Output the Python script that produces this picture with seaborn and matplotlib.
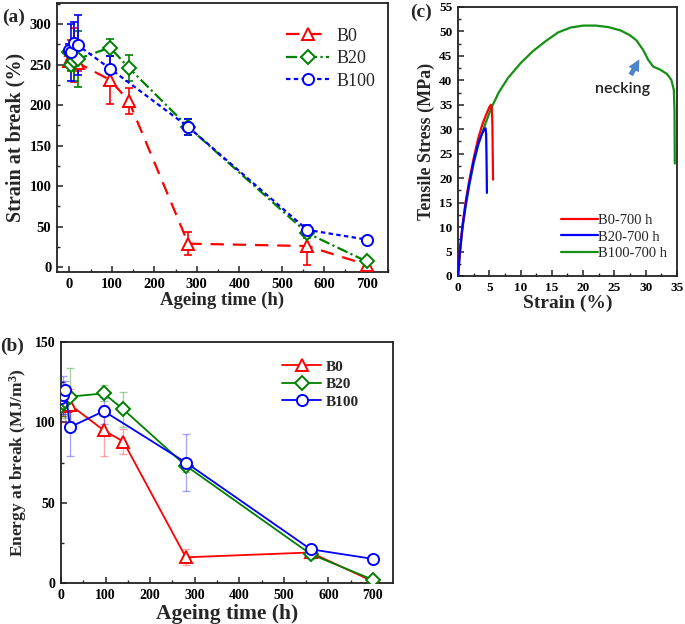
import matplotlib
matplotlib.use("Agg")
import matplotlib.pyplot as plt
import seaborn as sns
import pandas as pd
from matplotlib.ticker import MultipleLocator

# ---------------- data ----------------
series_names = ["B0", "B20", "B100"]
series_colors = {"B0": "#ff0000", "B20": "#008000", "B100": "#0000ff"}
series_markers = {"B0": "^", "B20": "D", "B100": "o"}

time_full = [0, 5, 10, 20, 96, 140, 280, 560, 700]
time_b100 = [0, 5, 10, 20, 96, 280, 560, 700]

# (a) strain at break (%)
strain_b0 = [255, 268, 262, 252, 231, 205, 29, 26, 3]
strain_b0_err = [8, 12, 33, 10, 30, 16, 14, 23, 3]
strain_b20 = [265, 250, 255, 257, 271, 246, 173, 42, 7]
strain_b20_err = [5, 8, 25, 35, 10, 16, 10, 6, 3]
strain_b100 = [268, 265, 277, 274, 245, 173, 46, 34]
strain_b100_err = [8, 35, 25, 37, 15, 10, 6, 3]

# (b) energy at break (MJ/m3)
energy_b0 = [112, 113, 110, 111, 95, 88, 16, 19, 1]
energy_b0_err = [8, 9, 10, 10, 16, 8, 5, 3, 1]
energy_b20 = [110, 112, 113, 116, 118, 108, 73, 18, 2]
energy_b20_err = [6, 8, 10, 18, 5, 11, 4, 3, 1]
energy_b100 = [115, 117, 120, 97, 107, 75, 21, 15]
energy_b100_err = [10, 12, 6, 18, 8, 18, 2, 1]

# (c) tensile curves after 700 h
curve_b0_strain = [0, 0.3, 0.7, 1.2, 1.8, 2.5, 3.2, 3.9, 4.5, 5.0, 5.25, 5.4, 5.5, 5.55, 5.6]
curve_b0_stress = [0, 5, 10, 15, 19.5, 24, 28, 31, 33, 34.5, 35, 34.3, 31, 25, 19.7]
curve_b20_strain = [0, 0.3, 0.7, 1.2, 1.8, 2.5, 3.2, 3.8, 4.2, 4.4, 4.5, 4.55, 4.6, 4.62]
curve_b20_stress = [0, 5, 10, 14.5, 19, 23.5, 27, 29, 30, 30.2, 29, 25, 20, 17]
curve_b100_strain = [0, 0.3, 0.7, 1.2, 1.8, 2.5, 3.3, 4.2, 5.2, 6.5, 8, 10, 12, 14, 16, 18,
                     20, 22, 24, 26, 27.5, 28.5, 29.6, 30.4, 31.2, 32.3, 33.4, 34.1, 34.5,
                     34.6, 34.65]
curve_b100_stress = [0, 4.5, 9.5, 14, 18.5, 23, 27, 30.5, 34, 37.5, 40.5, 43.5, 46, 48, 49.8,
                     50.8, 51.2, 51.2, 50.9, 50.2, 49.2, 48.2, 46.2, 44.2, 42.8, 42.2, 41.3,
                     40.1, 38, 34, 23]
curve_labels = ["B0-700 h", "B20-700 h", "B100-700 h"]

# ---------------- style ----------------
sns.set_theme(style="ticks")
plt.rcParams["font.family"] = ["Liberation Serif", "DejaVu Serif"]
plt.rcParams["mathtext.fontset"] = "custom"
plt.rcParams["mathtext.rm"] = "Liberation Serif:bold"
plt.rcParams["mathtext.it"] = "Liberation Serif:italic:bold"
plt.rcParams["mathtext.bf"] = "Liberation Serif:bold"
plt.rcParams["axes.linewidth"] = 1.3
plt.rcParams["axes.edgecolor"] = "#222222"
plt.rcParams["xtick.direction"] = "in"
plt.rcParams["ytick.direction"] = "in"

fig = plt.figure(figsize=(6.85, 6.24), dpi=100)


def style_axes(ax, tick_size):
    ax.tick_params(which="major", length=4, width=1.1, labelsize=tick_size, pad=4,
                   colors="#222222", labelcolor="black")
    ax.tick_params(which="minor", length=2.5, width=1.0)
    for lbl in ax.get_xticklabels() + ax.get_yticklabels():
        lbl.set_fontweight("bold")
        lbl.set_fontfamily("Liberation Serif")
    for s in ax.spines.values():
        s.set_visible(True)


def draw_series(ax, x, y, err, name, ls, lw, ms, err_alpha, err_lw):
    c = series_colors[name]
    ax.errorbar(x, y, yerr=err, fmt="none", ecolor=c, elinewidth=err_lw,
                capsize=3, capthick=err_lw, alpha=err_alpha, zorder=2)
    sns.lineplot(x=x, y=y, ax=ax, color=c, marker=series_markers[name],
                 markersize=ms if series_markers[name] != "D" else ms * 0.85,
                 markerfacecolor="white", markeredgecolor=c, markeredgewidth=1.4,
                 linewidth=lw, linestyle=ls, label=name, sort=False,
                 estimator=None, zorder=3)


# ---------------- (a) ----------------
axa = fig.add_axes([0.0832, 0.5641, 0.4832, 0.4311])
draw_series(axa, time_full, strain_b0, strain_b0_err, "B0", (0, (6, 4)), 1.6, 8, 1.0, 1.2)
draw_series(axa, time_full, strain_b20, strain_b20_err, "B20", (0, (5, 1.5, 1, 1.5)), 1.6, 8, 1.0, 1.2)
draw_series(axa, time_b100, strain_b100, strain_b100_err, "B100", (0, (2, 1.5)), 1.6, 8, 1.0, 1.2)
axa.set_xlim(-29, 750)
axa.set_ylim(-6, 326)
axa.xaxis.set_major_locator(MultipleLocator(100))
axa.xaxis.set_minor_locator(MultipleLocator(50))
axa.yaxis.set_major_locator(MultipleLocator(50))
axa.yaxis.set_minor_locator(MultipleLocator(25))
axa.set_xlabel("Ageing time (h)", fontsize=13.5, fontweight="bold", labelpad=1)
axa.set_ylabel("Strain at break (%)", fontsize=14.5, fontweight="bold", labelpad=3)
style_axes(axa, 10.5)
axa.legend(loc="upper right", bbox_to_anchor=(1.0, 0.955), frameon=False,
           prop={"family": "Liberation Serif", "size": 13}, handlelength=2.4,
           labelspacing=0.3, handletextpad=0.4, borderaxespad=0.3)

# ---------------- (b) ----------------
axb = fig.add_axes([0.0891, 0.0657, 0.4847, 0.3862])
draw_series(axb, time_full, energy_b0, energy_b0_err, "B0", "-", 1.3, 8, 0.35, 1.0)
draw_series(axb, time_full, energy_b20, energy_b20_err, "B20", "-", 1.3, 8, 0.35, 1.0)
draw_series(axb, time_b100, energy_b100, energy_b100_err, "B100", "-", 1.3, 8, 0.35, 1.0)
axb.set_xlim(0, 745)
axb.set_ylim(0, 150)
axb.xaxis.set_major_locator(MultipleLocator(100))
axb.xaxis.set_minor_locator(MultipleLocator(50))
axb.yaxis.set_major_locator(MultipleLocator(50))
axb.yaxis.set_minor_locator(MultipleLocator(25))
axb.set_xlabel("Ageing time (h)", fontsize=15.5, fontweight="bold", labelpad=2)
axb.set_ylabel(r"Energy at break (MJ/m$^3$)", fontsize=12.5, fontweight="bold", labelpad=4)
style_axes(axb, 10)
axb.legend(loc="upper right", bbox_to_anchor=(0.93, 0.97), frameon=False,
           prop={"family": "Liberation Serif", "size": 11, "weight": "bold"},
           handlelength=2.6, labelspacing=0.25, handletextpad=0.3, borderaxespad=0.3)

# ---------------- (c) ----------------
axc = fig.add_axes([0.6686, 0.5577, 0.3197, 0.4311])
curve_colors = ["#ff0000", "#0000ff", "#149014"]
curves = [(curve_b0_strain, curve_b0_stress), (curve_b20_strain, curve_b20_stress),
          (curve_b100_strain, curve_b100_stress)]
for (xs, ys), lab, col in zip(curves, curve_labels, curve_colors):
    sns.lineplot(x=xs, y=ys, ax=axc, color=col, linewidth=1.6, label=lab,
                 sort=False, estimator=None)
axc.lines[0].set_zorder(4)
axc.lines[1].set_zorder(4)
axc.set_xlim(0, 35)
axc.set_ylim(0, 55)
axc.xaxis.set_major_locator(MultipleLocator(5))
axc.xaxis.set_minor_locator(MultipleLocator(2.5))
axc.yaxis.set_major_locator(MultipleLocator(5))
axc.yaxis.set_minor_locator(MultipleLocator(2.5))
axc.set_xlabel("Strain (%)", fontsize=14, fontweight="bold", labelpad=1)
axc.set_ylabel("Tensile Stress (MPa)", fontsize=13, fontweight="bold", labelpad=3)
style_axes(axc, 9.5)
axc.legend(loc="lower right", bbox_to_anchor=(1.0, 0.02), frameon=False,
           prop={"family": "Liberation Serif", "size": 10.5}, handlelength=2.5,
           labelspacing=0.25, handletextpad=0.0, borderaxespad=0.3)
axc.annotate("", xy=(29.2, 44.8), xytext=(27.4, 40.6),
             arrowprops=dict(arrowstyle="simple,head_width=0.7,head_length=0.7,tail_width=0.3",
                             color="#4a86c8", lw=0))
axc.text(26.3, 38.2, "necking", fontsize=11.5, family=["Lato", "DejaVu Sans"],
         fontweight="semibold", color="#222222", ha="center", va="center")

# panel labels
fig.text(0.003, 1 - 17 / 624, "(a)", fontsize=14, fontweight="bold", va="center", ha="left")
fig.text(0.0, 1 - 346 / 624, "(b)", fontsize=14, fontweight="bold", va="center", ha="left")
fig.text(410 / 685, 1 - 12 / 624, "(c)", fontsize=14, fontweight="bold", va="center", ha="left")

fig.savefig("out.png", dpi=100)
